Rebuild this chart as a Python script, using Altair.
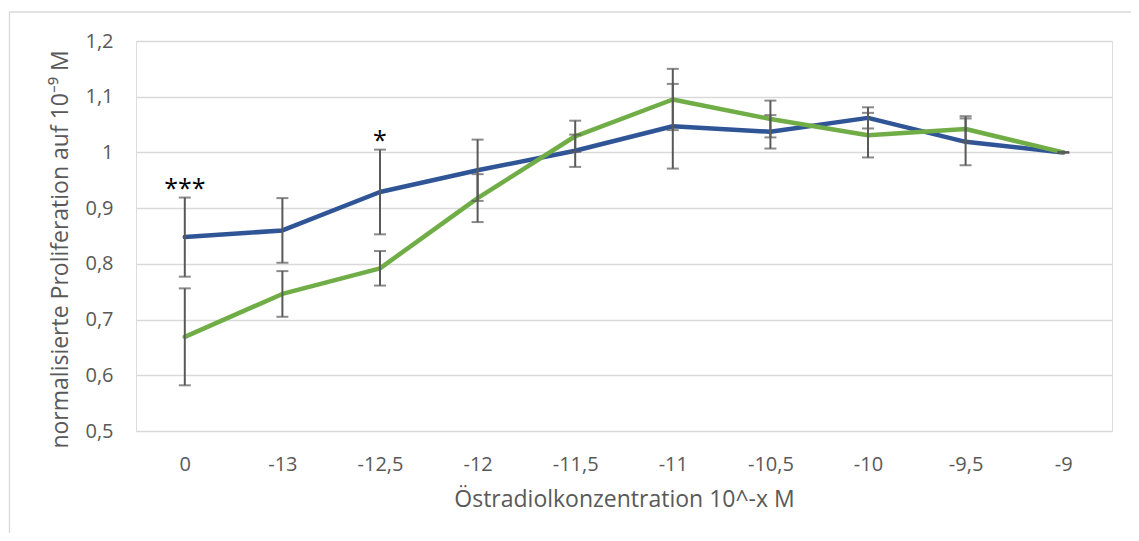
import altair as alt
import pandas as pd

categories = ["0", "-13", "-12,5", "-12", "-11,5", "-11", "-10,5", "-10", "-9,5", "-9"]
blue_values = [0.848, 0.860, 0.929, 0.968, 1.003, 1.047, 1.037, 1.062, 1.019, 1.0]
blue_errors = [0.071, 0.058, 0.076, 0.055, 0.029, 0.076, 0.030, 0.019, 0.042, 0.0]
green_values = [0.669, 0.746, 0.792, 0.918, 1.029, 1.095, 1.060, 1.031, 1.042, 1.0]
green_errors = [0.087, 0.041, 0.031, 0.043, 0.028, 0.055, 0.033, 0.040, 0.023, 0.0]
series_names = ["Reihe 1", "Reihe 2"]
series_colors = ["#2F5597", "#70AD47"]

star_texts = ["***", "*"]
star_categories = ["0", "-12,5"]
star_values = [0.920, 1.007]

y_ticks = [0.5, 0.6, 0.7, 0.8, 0.9, 1.0, 1.1, 1.2]

rows = []
for name, vals, errs in [(series_names[0], blue_values, blue_errors),
                         (series_names[1], green_values, green_errors)]:
    for i, c in enumerate(categories):
        rows.append({"cat": c, "order": i, "series": name, "value": vals[i],
                     "lo": vals[i] - errs[i], "hi": vals[i] + errs[i]})
df = pd.DataFrame(rows)
stars = pd.DataFrame({"cat": star_categories, "value": star_values, "text": star_texts})

FONT = "Open Sans"
GREY = "#595959"

x_enc = alt.X("cat:N", sort=categories,
              scale=alt.Scale(type="point", padding=0.5),
              axis=alt.Axis(title="Östradiolkonzentration 10^-x M", labelAngle=0,
                            domain=False, ticks=False, grid=False,
                            labelPadding=23, titlePadding=14,
                            labelFontSize=20, titleFontSize=23,
                            labelColor=GREY, titleColor=GREY,
                            labelFont=FONT, titleFont=FONT, titleFontWeight="normal"))
y_scale = alt.Scale(domain=[0.5, 1.2], nice=False, zero=False)
y_axis = alt.Axis(title="normalisierte Proliferation auf 10⁻⁹ M", values=y_ticks,
                  labelExpr="replace(format(datum.value, '.1~f'), '.', ',')",
                  domain=False, ticks=False, grid=True, gridColor="#d9d9d9", gridWidth=1.3,
                  labelPadding=23, titlePadding=12, labelFontSize=20, titleFontSize=23,
                  titleY=208,
                  labelColor=GREY, titleColor=GREY, labelFont=FONT, titleFont=FONT,
                  titleFontWeight="normal")

color_scale = alt.Scale(domain=series_names, range=series_colors)

border = alt.Chart(pd.DataFrame({"a": [1]})).mark_rect(
    fill=None, stroke="#d9d9d9", strokeWidth=1.3).encode(
    x=alt.value(-126.5), x2=alt.value(1010), y=alt.value(-29), y2=alt.value(600))

lines = alt.Chart(df).mark_line(strokeWidth=4.5, strokeCap="round", strokeJoin="round").encode(
    x=x_enc,
    y=alt.Y("value:Q", scale=y_scale, axis=y_axis),
    color=alt.Color("series:N", scale=color_scale, legend=None),
    detail="series:N",
    order="order:Q")

rules = alt.Chart(df).mark_rule(color=GREY, strokeWidth=2).encode(
    x=alt.X("cat:N", sort=categories), y="lo:Q", y2="hi:Q")
caps_hi = alt.Chart(df).mark_tick(color=GREY, orient="horizontal", size=12, thickness=2).encode(
    x=alt.X("cat:N", sort=categories), y="hi:Q")
caps_lo = alt.Chart(df).mark_tick(color=GREY, orient="horizontal", size=12, thickness=2).encode(
    x=alt.X("cat:N", sort=categories), y="lo:Q")

star_text = alt.Chart(stars).mark_text(font=FONT, fontSize=25, color="#000000",
                                       baseline="alphabetic", align="center").encode(
    x=alt.X("cat:N", sort=categories), y="value:Q", text="text:N")

chart = alt.layer(border, lines, rules, caps_hi, caps_lo, star_text).properties(
    width=976, height=390,
    autosize=alt.AutoSizeParams(type="none"),
    padding={"left": 128, "top": 33, "right": 19, "bottom": 102},
).configure_view(stroke=None).configure(background="white")

chart.save("out.html", embed_options={"renderer": "svg", "actions": False})
